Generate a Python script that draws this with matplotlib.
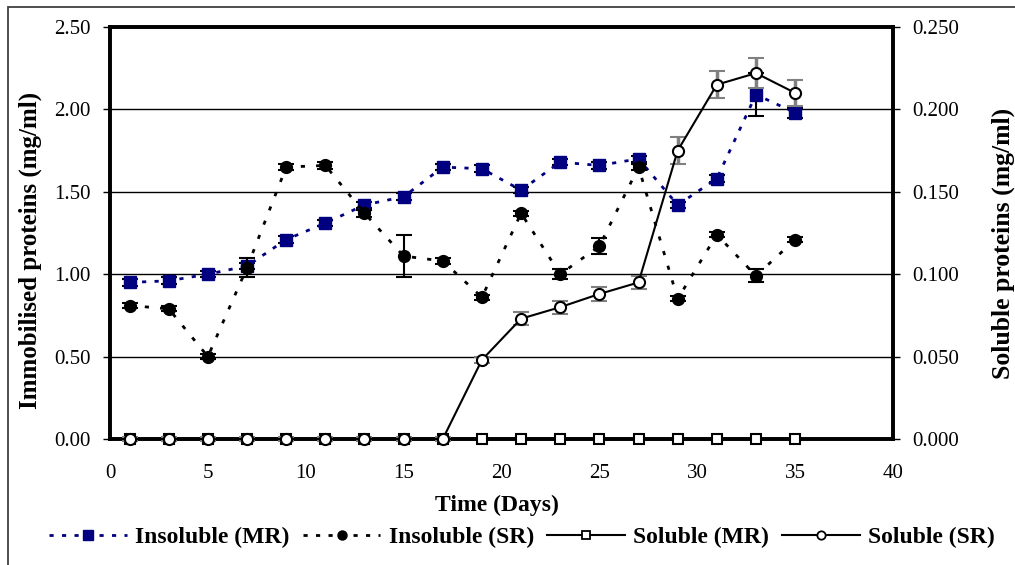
import matplotlib
matplotlib.use("Agg")
import matplotlib.pyplot as plt
from matplotlib.patches import Rectangle
from matplotlib.ticker import FormatStrFormatter, MultipleLocator

plt.rcParams['font.family'] = ['Liberation Serif', 'DejaVu Serif']

# days sampled
days = [1, 3, 5, 7, 9, 11, 13, 15, 17, 19, 21, 23, 25, 27, 29, 31, 33, 35]

# immobilised (insoluble) proteins, mg/ml, left axis
ins_mr = [0.95, 0.96, 1.00, 1.05, 1.21, 1.31, 1.42, 1.47, 1.65, 1.64, 1.51, 1.68, 1.66, 1.70, 1.42, 1.58, 2.09, 1.98]
ins_mr_err = [0.02, 0.02, 0.02, 0.02, 0.02, 0.02, 0.02, 0.02, 0.02, 0.02, 0.02, 0.02, 0.02, 0.02, 0.02, 0.02, 0.13, 0.03]
ins_sr = [0.81, 0.79, 0.50, 1.04, 1.65, 1.66, 1.37, 1.11, 1.08, 0.86, 1.37, 1.00, 1.17, 1.65, 0.85, 1.24, 0.99, 1.21]
ins_sr_err = [0.015, 0.015, 0.015, 0.06, 0.02, 0.02, 0.02, 0.13, 0.02, 0.015, 0.015, 0.03, 0.05, 0.02, 0.015, 0.015, 0.04, 0.015]

# soluble proteins, mg/ml, right axis
sol_mr = [0.0] * 18
sol_sr = [0.0, 0.0, 0.0, 0.0, 0.0, 0.0, 0.0, 0.0, 0.0, 0.048, 0.073, 0.080, 0.088, 0.095, 0.175, 0.215, 0.222, 0.210]
sol_sr_err = [0.001, 0.001, 0.001, 0.001, 0.001, 0.001, 0.001, 0.001, 0.001, 0.002, 0.004, 0.004, 0.004, 0.004, 0.008, 0.008, 0.009, 0.008]

labels = ['Insoluble (MR)', 'Insoluble (SR)', 'Soluble (MR)', 'Soluble (SR)']

W, H = 1015, 565
fig = plt.figure(figsize=(W / 100, H / 100), dpi=100)
ax = fig.add_axes([110 / W, 1 - 439 / H, (893 - 110) / W, (439 - 27) / H])
ax2 = ax.twinx()

# outer chart border (Excel style, runs off the right / bottom)
fig.patches.append(Rectangle((8 / W, -0.1), 1.2, 1 - 7 / H + 0.1, transform=fig.transFigure,
                             fill=False, edgecolor='#404040', linewidth=1.3))

navy = '#000080'
grey = '#808080'

ax.errorbar(days, ins_mr, yerr=ins_mr_err, color=navy, ecolor='black', elinewidth=1.5,
            capsize=6, capthick=1.5, linestyle=(0, (1.5, 3)), linewidth=2,
            marker='s', markersize=8.5, markerfacecolor=navy, markeredgecolor=navy,
            clip_on=False, zorder=3)
ax.errorbar(days, ins_sr, yerr=ins_sr_err, color='black', ecolor='black', elinewidth=1.5,
            capsize=6, capthick=1.5, linestyle=(0, (1.5, 4)), linewidth=2,
            marker='o', markersize=8.5, markerfacecolor='black', markeredgecolor='black',
            clip_on=False, zorder=4)

ax2.plot(days, sol_mr, color='black', linewidth=1.5, marker='s', markersize=7,
         markerfacecolor='white', markeredgecolor='black', markeredgewidth=1.5,
         clip_on=False, zorder=3)
ax2.errorbar(days, sol_sr, yerr=sol_sr_err, color='black', ecolor=grey, elinewidth=2.5,
             capsize=6, capthick=2.5, linewidth=1.5, marker='o', markersize=8,
             markerfacecolor='white', markeredgecolor='black', markeredgewidth=1.5,
             clip_on=False, zorder=4)

ax.set_xlim(0, 40)
ax.set_ylim(0, 2.5)
ax2.set_ylim(0, 0.25)
ax.set_zorder(ax2.get_zorder() - 1)
ax2.patch.set_visible(False)

ax.set_xticks([0, 5, 10, 15, 20, 25, 30, 35, 40])
ax.xaxis.set_minor_locator(MultipleLocator(10))
ax.tick_params(axis='x', which='major', length=0, pad=18, labelsize=15)
ax.tick_params(axis='x', which='minor', length=7, width=1, direction='inout')
ax.yaxis.set_major_locator(MultipleLocator(0.5))
ax.yaxis.set_major_formatter(FormatStrFormatter('%.2f'))
ax.tick_params(axis='y', length=5, width=1, pad=9, labelsize=15)
ax2.yaxis.set_major_locator(MultipleLocator(0.05))
ax2.yaxis.set_major_formatter(FormatStrFormatter('%.3f'))
ax2.tick_params(axis='y', length=5, width=1, pad=9, labelsize=15)

ax.grid(axis='y', color='black', linewidth=1)
ax.set_axisbelow(True)
for a in (ax, ax2):
    for s in a.spines.values():
        s.set_linewidth(2.6)
        s.set_color('black')

fig.text(497 / W, 1 - 505 / H, 'Time (Days)', ha='center', va='center', fontsize=17, fontweight='bold')
fig.text(30 / W, 1 - 250 / H, 'Immobilised proteins (mg/ml)', ha='center', va='center',
         rotation=90, fontsize=18, fontweight='bold')
fig.text(1003 / W, 1 - 243 / H, 'Soluble proteins (mg/ml)', ha='center', va='center',
         rotation=90, fontsize=18.5, fontweight='bold')

# legend proxies with smaller markers
h1, = ax.plot([], [], color=navy, linestyle=(0, (1.5, 3)), linewidth=2, marker='s', markersize=7,
              markerfacecolor=navy, markeredgecolor=navy)
h2, = ax.plot([], [], color='black', linestyle=(0, (1.5, 3)), linewidth=2, marker='o', markersize=6.5,
              markerfacecolor='black')
h3, = ax.plot([], [], color='black', linewidth=1.5, marker='s', markersize=6,
              markerfacecolor='white', markeredgecolor='black', markeredgewidth=1.3)
h4, = ax.plot([], [], color='black', linewidth=1.5, marker='o', markersize=6,
              markerfacecolor='white', markeredgecolor='black', markeredgewidth=1.3)
fig.legend([h1, h2, h3, h4], labels, loc='center', bbox_to_anchor=(522 / W, 1 - 537 / H),
           ncol=4, frameon=False, handlelength=3.3, handletextpad=0.35, columnspacing=0.55,
           borderpad=0.2, prop={'size': 17, 'weight': 'bold'})

fig.savefig('out.png', dpi=100)
